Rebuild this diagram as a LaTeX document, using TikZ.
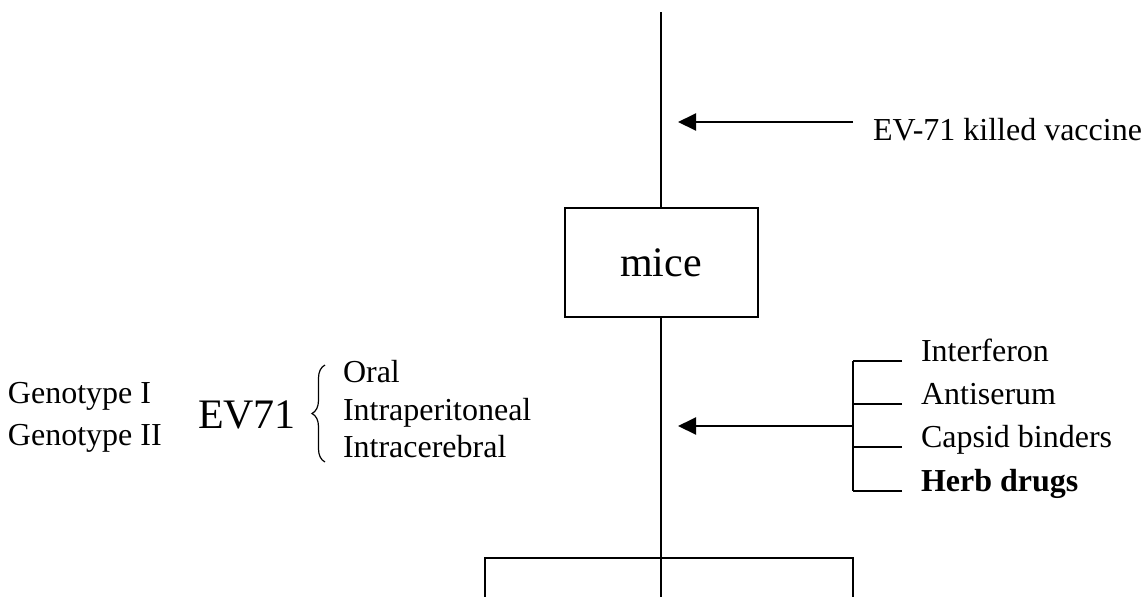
\documentclass[tikz,border=0pt]{standalone}
\usepackage{fontspec}
\setmainfont{Liberation Serif}
\usetikzlibrary{arrows.meta,positioning,decorations.pathreplacing}

\begin{document}
\begin{tikzpicture}[x=0.5pt, y=-0.5pt, line width=1pt,
    >={Triangle[length=9pt,width=8.5pt]},
    lbl/.style={inner sep=0pt, anchor=base west, font=\fontsize{16}{19}\selectfont},
    big/.style={font=\fontsize{21}{25}\selectfont}]
    \useasboundingbox (0,0) rectangle (1146,596);

    % Main line with the boxes
    \coordinate (top) at (661,12);
    \node[draw, big, minimum width=96.5pt, minimum height=54.5pt] (mice) at (661,262.5) {mice};
    \node[draw, anchor=north, minimum width=184pt, minimum height=40pt] (result) at (669,557) {};
    \draw (top) -- (mice.north);
    \draw (mice.south) -- (mice.south |- result.south);

    % Vaccine
    \coordinate (vtail) at (853,122);
    \coordinate (vtip) at (678,122);
    \node[lbl] (vaccine) at (872,140) {EV-71 killed vaccine};
    \draw[->] (vtail) -- (vtip);

    % Treatments
    \coordinate (djoin) at (853,426);
    \coordinate (dtip) at (678,426);
    \foreach \name/\txt/\y in {ifn/Interferon/361, anti/Antiserum/404, caps/Capsid binders/447, herb/\textbf{Herb drugs}/491} {
        \node[lbl] (\name) at (920,\y) {\txt};
        \draw ([xshift=-9pt]\name.base west) -- ++(-49,0);
    }
    \draw (853,361) -- (853,491);
    \draw[->] (djoin) -- (dtip);

    % Virus and routes
    \node[lbl] (geno1) at (7,403) {Genotype I};
    \node[lbl] (geno2) at (7,445) {Genotype II};
    \node[lbl, big] (ev) at (197,428) {EV71};
    \draw[line width=0.6pt, decorate, decoration={brace, amplitude=6.5pt}] (325,462) -- (325,365);
    \node[lbl] (oral) at (342,382) {Oral};
    \node[lbl] (ip) at (342,420) {Intraperitoneal};
    \node[lbl] (ic) at (342,457) {Intracerebral};
\end{tikzpicture}
\end{document}
